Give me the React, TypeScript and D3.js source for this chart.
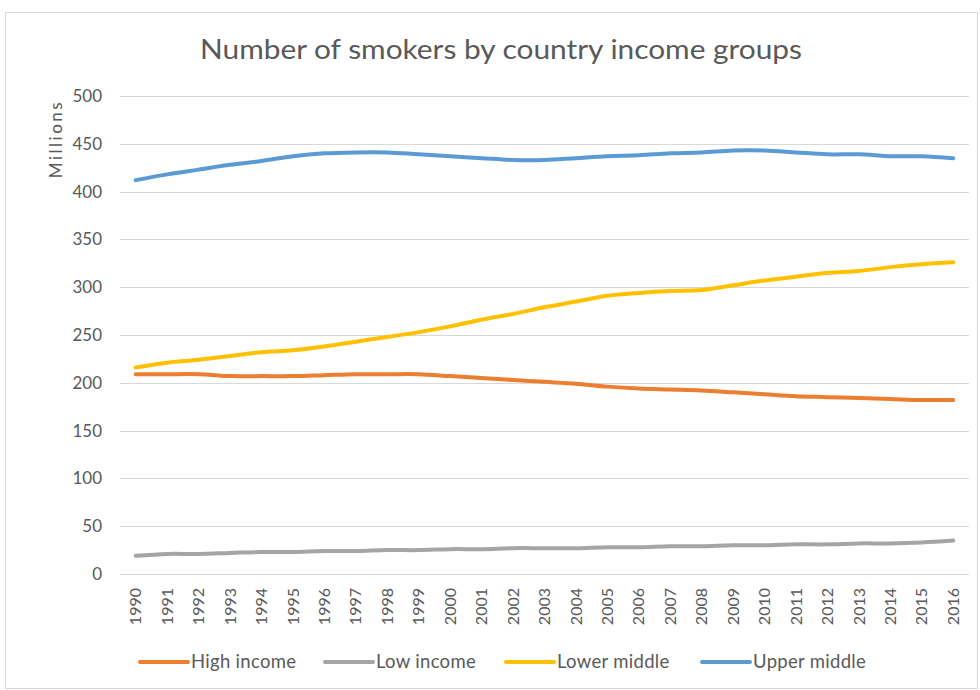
import React from "react";
import * as d3 from "d3";

const years = ["1990","1991","1992","1993","1994","1995","1996","1997","1998","1999","2000","2001","2002","2003","2004","2005","2006","2007","2008","2009","2010","2011","2012","2013","2014","2015","2016"];
const highIncome = [209,209,209,207,207,207,208,209,209,209,207,205,203,201,199,196,194,193,192,190,188,186,185,184,183,182,182];
const lowIncome = [19,21,21,22,23,23,24,24,25,25,26,26,27,27,27,28,28,29,29,30,30,31,31,32,32,33,35];
const lowerMiddle = [216,221,224,228,232,234,238,243,248,253,259,266,272,279,285,291,294,296,297,302,307,311,315,317,321,324,326];
const upperMiddle = [412,418,423,428,432,437,440,441,441,439,437,435,433,433,435,437,438,440,441,443,443,441,439,439,437,437,435];
const seriesNames = ["High income", "Low income", "Lower middle", "Upper middle"];
const seriesColors = ["#ED7D31", "#A5A5A5", "#FFC000", "#5B9BD5"];
const yTicks = [0, 50, 100, 150, 200, 250, 300, 350, 400, 450, 500];
const title = "Number of smokers by country income groups";
const yAxisTitle = "Millions";

const W = 980, H = 690;
const left = 120, right = 969, top = 96, bottom = 574;
const FONT = "Lato, 'Open Sans', sans-serif";
const TEXT = "#595959";

export default function App() {
  const x = d3.scaleBand<string>().domain(years).range([left, right]);
  const xc = (yr: string) => (x(yr) as number) + x.bandwidth() / 2;
  const y = d3.scaleLinear().domain([0, 500]).range([bottom, top]);
  const allSeries = [highIncome, lowIncome, lowerMiddle, upperMiddle];
  const line = d3
    .line<number>()
    .x((_, i) => xc(years[i]))
    .y((d) => y(d))
    .curve(d3.curveCatmullRom.alpha(0.5));
  const legendX = [140, 325, 506, 702];

  return (
    <svg width={W} height={H} style={{ position: "absolute", left: 0, top: 0, background: "#fff" }} fontFamily={FONT}>
      <rect x={5.5} y={12.5} width={972} height={676} fill="#fff" stroke="#d9d9d9" />
      <text x={501} y={59} textAnchor="middle" fontSize={27} fill={TEXT} textLength={602} lengthAdjust="spacingAndGlyphs">
        {title}
      </text>
      {yTicks.map((t) => (
        <g key={t}>
          <line x1={left} x2={right} y1={Math.round(y(t)) + 0.5} y2={Math.round(y(t)) + 0.5} stroke="#d9d9d9" strokeWidth={1} />
          <text x={102} y={y(t)} dy="0.35em" textAnchor="end" fontSize={17} fill={TEXT}>
            {t}
          </text>
        </g>
      ))}
      <text transform={`translate(56,139) rotate(-90)`} textAnchor="middle" dy="0.35em" fontSize={17} fill={TEXT} letterSpacing={2.5}>
        {yAxisTitle}
      </text>
      {years.map((yr) => (
        <text key={yr} transform={`translate(${xc(yr)},588) rotate(-90)`} textAnchor="end" dy="0.35em" fontSize={16} fill={TEXT}>
          {yr}
        </text>
      ))}
      {allSeries.map((s, i) => (
        <path key={seriesNames[i]} d={line(s) as string} fill="none" stroke={seriesColors[i]} strokeWidth={4} strokeLinecap="round" strokeLinejoin="round" />
      ))}
      {seriesNames.map((n, i) => (
        <g key={n}>
          <line x1={legendX[i]} x2={legendX[i] + 48} y1={662} y2={662} stroke={seriesColors[i]} strokeWidth={4} strokeLinecap="round" />
          <text x={legendX[i] + 51} y={662} dy="0.35em" fontSize={18.5} fill={TEXT} letterSpacing={0.3}>
            {n}
          </text>
        </g>
      ))}
    </svg>
  );
}
